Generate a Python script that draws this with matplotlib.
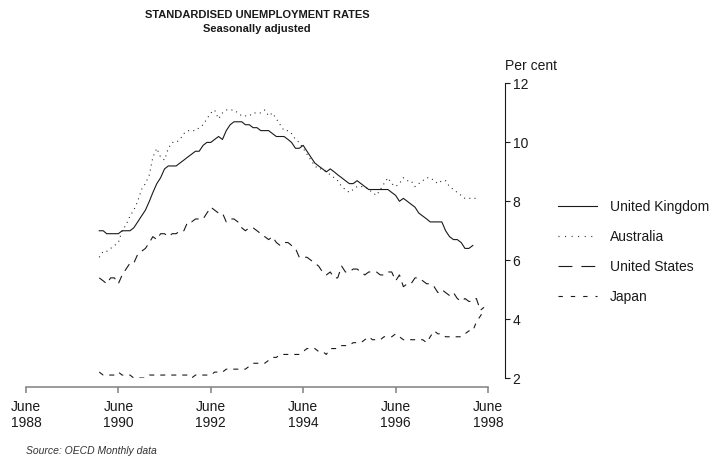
import matplotlib
matplotlib.use("Agg")
import matplotlib.pyplot as plt
from matplotlib.lines import Line2D
import pandas as pd

plt.rcParams["font.family"] = ["Liberation Sans", "DejaVu Sans"]

# Monthly standardised unemployment rates (per cent), seasonally adjusted
united_kingdom = [
    7.0, 7.0, 6.9, 6.9, 6.9, 6.9, 7.0, 7.0, 7.0, 7.1,
    7.3, 7.5, 7.7, 8.0, 8.3, 8.6, 8.8, 9.1, 9.2, 9.2,
    9.2, 9.3, 9.4, 9.5, 9.6, 9.7, 9.7, 9.9, 10.0, 10.0,
    10.1, 10.2, 10.1, 10.4, 10.6, 10.7, 10.7, 10.7, 10.6, 10.6,
    10.5, 10.5, 10.4, 10.4, 10.4, 10.3, 10.2, 10.2, 10.2, 10.1,
    10.0, 9.8, 9.8, 9.9, 9.7, 9.5, 9.3, 9.2, 9.1, 9.0,
    9.1, 9.0, 8.9, 8.8, 8.7, 8.6, 8.6, 8.7, 8.6, 8.5,
    8.4, 8.4, 8.4, 8.4, 8.4, 8.4, 8.3, 8.2, 8.0, 8.1,
    8.0, 7.9, 7.8, 7.6, 7.5, 7.4, 7.3, 7.3, 7.3, 7.3,
    7.0, 6.8, 6.7, 6.7, 6.6, 6.4, 6.4, 6.5,
]
australia = [
    6.1, 6.3, 6.3, 6.4, 6.5, 6.6, 7.0, 7.2, 7.5, 7.7,
    8.0, 8.4, 8.6, 8.9, 9.5, 9.8, 9.5, 9.4, 9.8, 10.0,
    10.0, 10.1, 10.3, 10.4, 10.4, 10.4, 10.5, 10.6, 10.8, 11.0,
    11.1, 10.8, 11.0, 11.1, 11.1, 11.1, 11.0, 10.9, 10.9, 10.9,
    11.0, 11.0, 11.0, 11.1, 10.9, 11.0, 10.8, 10.6, 10.4, 10.4,
    10.3, 10.1, 10.0, 9.8, 9.6, 9.4, 9.2, 9.1, 9.1, 9.0,
    8.9, 8.8, 8.7, 8.5, 8.4, 8.3, 8.4, 8.5, 8.5, 8.5,
    8.4, 8.3, 8.2, 8.4, 8.6, 8.8, 8.6, 8.5, 8.6, 8.8,
    8.7, 8.7, 8.5, 8.6, 8.7, 8.8, 8.8, 8.7, 8.6, 8.7,
    8.7, 8.5, 8.4, 8.3, 8.2, 8.1, 8.1, 8.1, 8.1,
]
united_states = [
    5.4, 5.3, 5.2, 5.4, 5.4, 5.2, 5.5, 5.7, 5.9, 5.9,
    6.2, 6.3, 6.4, 6.6, 6.8, 6.7, 6.9, 6.9, 6.8, 6.9,
    6.9, 7.0, 7.0, 7.3, 7.3, 7.4, 7.4, 7.4, 7.6, 7.8,
    7.7, 7.6, 7.6, 7.3, 7.4, 7.4, 7.3, 7.1, 7.0, 7.1,
    7.1, 7.0, 6.9, 6.8, 6.7, 6.8, 6.6, 6.5, 6.6, 6.6,
    6.5, 6.4, 6.1, 6.1, 6.1, 6.0, 5.9, 5.8, 5.6, 5.5,
    5.6, 5.4, 5.4, 5.8, 5.6, 5.6, 5.7, 5.7, 5.6, 5.5,
    5.6, 5.6, 5.6, 5.5, 5.5, 5.6, 5.6, 5.3, 5.5, 5.1,
    5.2, 5.2, 5.4, 5.4, 5.3, 5.2, 5.2, 5.1, 4.9, 5.0,
    4.9, 4.8, 4.9, 4.7, 4.6, 4.7, 4.6, 4.6, 4.7, 4.3,
    4.4,
]
japan = [
    2.2, 2.1, 2.1, 2.1, 2.1, 2.2, 2.1, 2.1, 2.1, 2.0,
    2.0, 2.0, 2.0, 2.1, 2.1, 2.1, 2.1, 2.1, 2.1, 2.1,
    2.1, 2.1, 2.1, 2.1, 2.0, 2.1, 2.1, 2.1, 2.1, 2.1,
    2.2, 2.2, 2.2, 2.3, 2.3, 2.3, 2.3, 2.3, 2.3, 2.4,
    2.5, 2.5, 2.5, 2.5, 2.6, 2.7, 2.7, 2.8, 2.8, 2.8,
    2.8, 2.8, 2.8, 2.9, 3.0, 3.0, 3.0, 2.9, 2.9, 2.8,
    3.0, 3.0, 3.0, 3.1, 3.1, 3.1, 3.2, 3.2, 3.2, 3.3,
    3.4, 3.3, 3.3, 3.3, 3.4, 3.4, 3.4, 3.5, 3.4, 3.3,
    3.3, 3.3, 3.3, 3.3, 3.3, 3.2, 3.4, 3.6, 3.5, 3.5,
    3.4, 3.4, 3.4, 3.4, 3.4, 3.5, 3.6, 3.6, 3.9, 4.1,
    4.3,
]

series_start = "1990-01-01"
tick_years = [1988, 1990, 1992, 1994, 1996, 1998]
tick_labels = [f"June\n{y}" for y in tick_years]
y_ticks = [2, 4, 6, 8, 10, 12]


def months(n):
    return pd.date_range(series_start, periods=n, freq="MS")


fig = plt.figure(figsize=(7.12, 4.57), dpi=100)
ax = fig.add_axes([26 / 712, 79 / 457, 462 / 712, 294.5 / 457])

ink = "#1a1a1a"
lw = 0.8
ax.plot(months(len(united_kingdom)), united_kingdom, color=ink, lw=lw,
        ls="-", solid_joinstyle="round")
ax.plot(months(len(australia)), australia, color=ink, lw=lw,
        ls=(0, (0.9, 3.8)), dash_capstyle="butt")
ax.plot(months(len(united_states)), united_states, color=ink, lw=lw,
        ls=(0, (7.2, 5.4)))
ax.plot(months(len(japan)), japan, color=ink, lw=lw,
        ls=(0, (4.5, 5.4)))

ax.set_xlim(pd.Timestamp("1988-06-01"), pd.Timestamp("1998-06-01"))
ax.set_ylim(2, 12)
ax.set_xticks([pd.Timestamp(f"{y}-06-01") for y in tick_years])
ax.set_xticklabels(tick_labels)
ax.set_yticks(y_ticks)
ax.set_yticklabels([str(v) for v in y_ticks])

ax.spines["top"].set_visible(False)
ax.spines["left"].set_visible(False)
ax.spines["bottom"].set_position(("outward", 6.5))
ax.spines["bottom"].set_color("#808080")
ax.spines["bottom"].set_linewidth(1.1)
ax.spines["right"].set_position(("outward", 12.2))
ax.spines["right"].set_color(ink)
ax.spines["right"].set_linewidth(0.8)

ax.yaxis.tick_right()
ax.tick_params(axis="y", direction="out", length=3.6, width=0.8,
               color=ink, pad=2, labelsize=10, labelcolor=ink)
ax.tick_params(axis="x", direction="out", length=4.5, width=1.1,
               color="#808080", pad=5, labelsize=10, labelcolor=ink)
ax.patch.set_visible(False)

fig.text(505 / 712, (457 - 70.5) / 457, "Per cent", ha="left",
         va="baseline", fontsize=10, color=ink)

fig.text(257 / 712, (457 - 15) / 457, "STANDARDISED UNEMPLOYMENT RATES",
         ha="center", va="center", fontsize=8, weight="bold", color=ink)
fig.text(257 / 712, (457 - 28.5) / 457, "Seasonally adjusted",
         ha="center", va="center", fontsize=8, weight="bold", color=ink)

fig.text(26 / 712, (457 - 454) / 457, "Source: OECD Monthly data",
         ha="left", va="baseline", fontsize=7.5, style="italic", color="#333333")

handles = [
    Line2D([], [], color=ink, lw=lw, ls="-"),
    Line2D([], [], color=ink, lw=lw, ls=(0, (0.9, 5.0))),
    Line2D([], [], color=ink, lw=lw, ls=(0, (12.5, 8.1))),
    Line2D([], [], color=ink, lw=lw, ls=(0, (3.9, 7.2))),
]
labels = ["United Kingdom", "Australia", "United States", "Japan"]
fig.legend(handles, labels, loc="upper left",
           bbox_to_anchor=(558 / 712, (457 - 200) / 457),
           bbox_transform=fig.transFigure, frameon=False, fontsize=10,
           handlelength=2.8, handletextpad=0.94, labelspacing=1.15,
           borderpad=0, borderaxespad=0, labelcolor=ink)

fig.savefig("out.png", dpi=100)
